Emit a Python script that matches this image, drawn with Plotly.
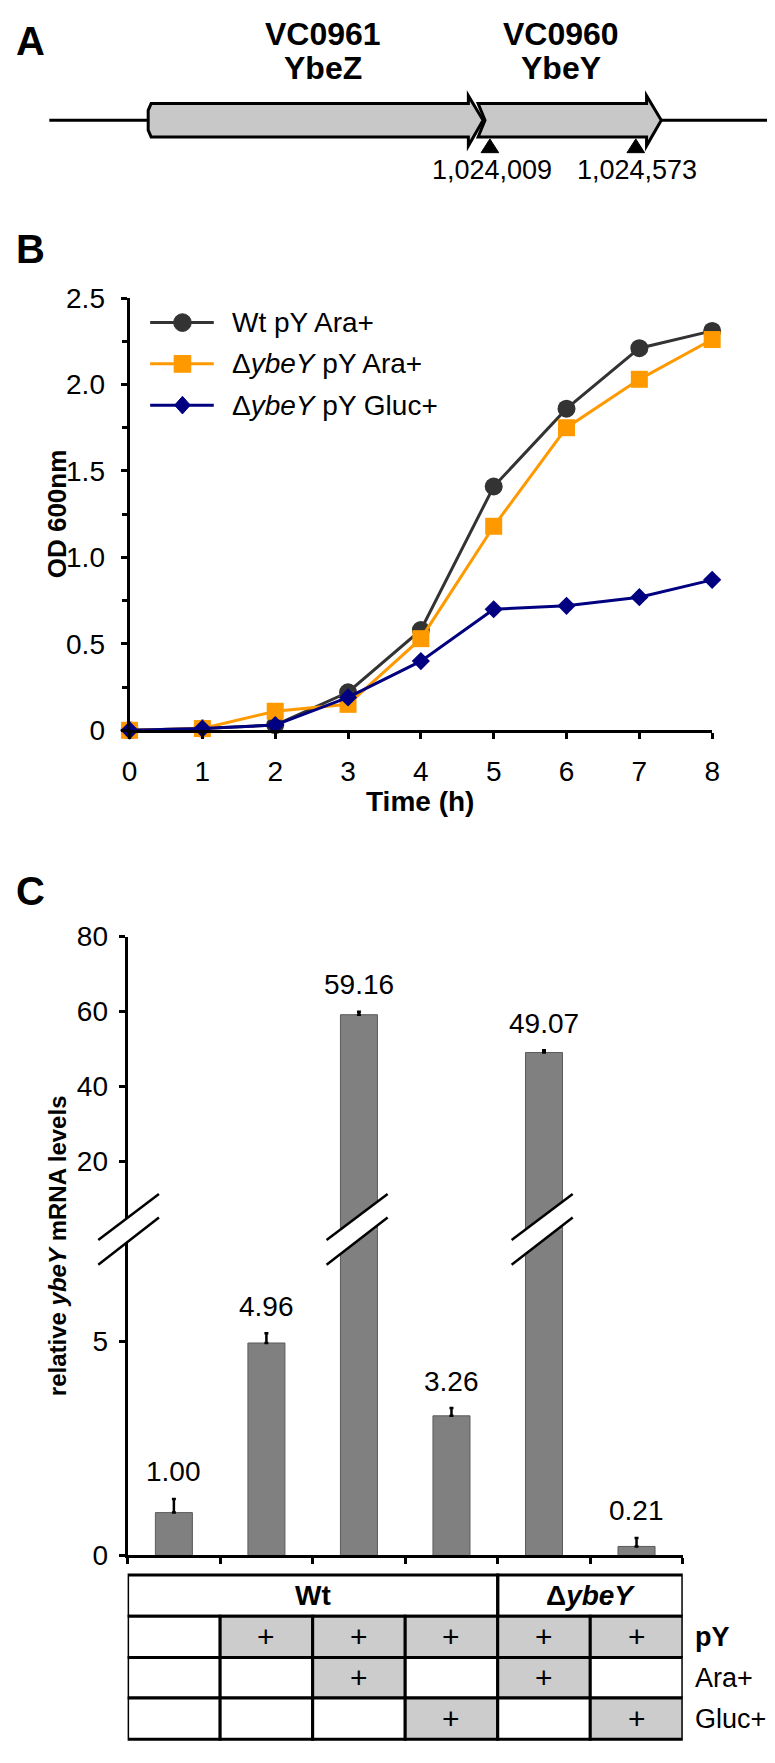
import plotly.graph_objects as go

# the page body keeps its default 8px margin, so the figure is 8px smaller
# than the window and every position below is given in window pixels
OFF = 8
W, H = 775 - OFF, 1763 - OFF
FONT = "Liberation Sans, Arial, sans-serif"

# panel A
gene_names = ["VC0961", "VC0960"]
gene_proteins = ["YbeZ", "YbeY"]
coord_labels = ["1,024,009", "1,024,573"]

# panel B - growth curves
hours = [0, 1, 2, 3, 4, 5, 6, 7, 8]
od_wt_ara = [0.00, 0.01, 0.03, 0.22, 0.58, 1.41, 1.86, 2.21, 2.31]
od_dybey_ara = [0.00, 0.01, 0.11, 0.15, 0.53, 1.18, 1.75, 2.03, 2.26]
od_dybey_gluc = [0.00, 0.01, 0.03, 0.19, 0.40, 0.70, 0.72, 0.77, 0.87]
series_names = ["Wt pY Ara+", "Δ<i>ybeY</i> pY Ara+", "Δ<i>ybeY</i> pY Gluc+"]
series_colors = ["#333333", "#FF9900", "#000080"]
series_symbols = ["circle", "square", "diamond"]
series_sizes = [18, 17, 14]

# panel C - mRNA levels
samples = ["Wt", "Wt pY", "Wt pY Ara+", "Wt pY Gluc+", "dybeY pY Ara+", "dybeY pY Gluc+"]
mrna = [1.00, 4.96, 59.16, 3.26, 49.07, 0.21]
mrna_err = [0.32, 0.23, 0.8, 0.18, 0.6, 0.2]
mrna_labels = ["1.00", "4.96", "59.16", "3.26", "49.07", "0.21"]

strain_groups = [("<b>Wt</b>", 0, 3), ("<b>Δ<i>ybeY</i></b>", 4, 5)]
cond_names = ["<b>pY</b>", "Ara+", "Gluc+"]
cond_py = [0, 1, 1, 1, 1, 1]
cond_ara = [0, 0, 1, 0, 1, 0]
cond_gluc = [0, 0, 0, 1, 0, 1]


def px(x):
    return (x - OFF) / W


def py(y):
    return 1 - (y - OFF) / H


def path(points):
    return "M " + " L ".join(f"{px(x)},{py(y)}" for x, y in points) + " Z"


fig = go.Figure()

# ---- B: growth curves
for ys, name, col, sym, sz in zip([od_wt_ara, od_dybey_ara, od_dybey_gluc], series_names,
                                  series_colors, series_symbols, series_sizes):
    fig.add_trace(go.Scatter(
        x=hours, y=ys, name=name, mode="lines+markers",
        line=dict(color=col, width=3),
        marker=dict(symbol=sym, size=sz, color=col),
        cliponaxis=False, xaxis="x", yaxis="y", showlegend=False,
    ))

# ---- C: bars, lower and upper part of the broken axis
tall = [v > 10 for v in mrna]
fig.add_trace(go.Bar(
    x=samples, y=mrna, width=0.4,
    marker=dict(color="#808080", line=dict(color="#5a5a5a", width=1)),
    error_y=dict(type="data", array=[0 if t else e for t, e in zip(tall, mrna_err)],
                 arrayminus=[0] * len(mrna), symmetric=False,
                 color="black", thickness=2.5, width=2),
    xaxis="x2", yaxis="y2", showlegend=False,
))
fig.add_trace(go.Bar(
    x=samples, y=[v if t else None for t, v in zip(tall, mrna)], width=0.4,
    marker=dict(color="#808080", line=dict(color="#5a5a5a", width=1)),
    error_y=dict(type="data", array=[e if t else 0 for t, e in zip(tall, mrna_err)],
                 arrayminus=[0] * len(mrna), symmetric=False,
                 color="black", thickness=2.5, width=2),
    xaxis="x2", yaxis="y3", showlegend=False,
))

ann = []
shapes = []

for i, (v, e, lab, t) in enumerate(zip(mrna, mrna_err, mrna_labels, tall)):
    ann.append(dict(x=samples[i], y=v + e, xref="x2", yref="y3" if t else "y2",
                    text=lab, yshift=27, font=dict(size=28)))

# ---- A: gene map
shapes.append(dict(type="line", xref="paper", yref="paper",
                   x0=px(42), x1=px(780), y0=py(107), y1=py(107),
                   line=dict(color="black", width=3)))
gene1 = [(146, 90), (470, 90), (470, 82), (485, 107), (470, 133), (470, 124),
         (146, 124), (143, 117), (143, 97)]
gene2 = [(480, 90), (652, 90), (652, 82), (667, 107), (652, 133), (652, 124),
         (480, 124), (487, 107)]
for g in (gene1, gene2):
    shapes.append(dict(type="path", xref="paper", yref="paper", path=path(g),
                       fillcolor="#c8c8c8", line=dict(color="black", width=3)))
for cx in (492, 641):
    shapes.append(dict(type="path", xref="paper", yref="paper",
                       path=path([(cx, 126), (cx + 9, 140), (cx - 9, 140)]),
                       fillcolor="black", line=dict(color="black", width=1)))
for cx, gname, prot in zip((322, 565), gene_names, gene_proteins):
    ann.append(dict(x=px(cx), y=py(19), text=f"<b>{gname}</b>", font=dict(size=32)))
    ann.append(dict(x=px(cx), y=py(54), text=f"<b>{prot}</b>", font=dict(size=32)))
for cx, lab in zip((494, 642), coord_labels):
    ann.append(dict(x=px(cx), y=py(158), text=lab, font=dict(size=27)))

# panel letters and axis titles
for lab, x, y, s in (("A", 23, 26, 40), ("B", 23, 238, 40), ("C", 23, 892, 40)):
    ann.append(dict(x=px(x), y=py(y), text=f"<b>{lab}</b>", font=dict(size=s)))
ann.append(dict(x=px(50), y=py(508), text="<b>OD 600nm</b>", textangle=-90, font=dict(size=26)))
ann.append(dict(x=px(421), y=py(800), text="<b>Time (h)</b>", font=dict(size=28)))
ann.append(dict(x=px(50), y=py(1253), text="<b>relative <i>ybeY</i> mRNA levels</b>",
                textangle=-90, font=dict(size=24)))

# ---- B legend (drawn by hand)
for k, (name, col, sym) in enumerate(zip(series_names, series_colors, series_symbols)):
    ly = [313, 355, 397][k]
    shapes.append(dict(type="line", xref="paper", yref="paper", x0=px(145), x1=px(210),
                       y0=py(ly), y1=py(ly), line=dict(color=col, width=3)))
    if sym == "circle":
        shapes.append(dict(type="circle", xref="paper", yref="paper", x0=px(169), x1=px(187),
                           y0=py(ly - 9), y1=py(ly + 9), fillcolor=col, line=dict(color=col, width=1)))
    elif sym == "square":
        shapes.append(dict(type="rect", xref="paper", yref="paper", x0=px(169.5), x1=px(186.5),
                           y0=py(ly - 8.5), y1=py(ly + 8.5), fillcolor=col, line=dict(color=col, width=1)))
    else:
        shapes.append(dict(type="path", xref="paper", yref="paper",
                           path=path([(178, ly - 9), (186, ly), (178, ly + 9), (170, ly)]),
                           fillcolor=col, line=dict(color=col, width=1)))
    ann.append(dict(x=px(227), y=py(ly), text=name, xanchor="left", font=dict(size=28)))


# ---- C axis break marks
def break_band(xref, cx, x_half):
    pts = [(cx - x_half, 1247), (cx + x_half, 1200), (cx + x_half, 1224), (cx - x_half, 1272)]
    if xref == "paper":
        xs = [px(p[0]) for p in pts]
    else:
        xs = [p[0] for p in pts]
    ys = [py(p[1]) for p in pts]
    d = "M " + " L ".join(f"{a},{b}" for a, b in zip(xs, ys)) + " Z"
    out = [dict(type="path", xref=xref, yref="paper", path=d, fillcolor="white",
                line=dict(width=0), layer="above")]
    for a, b in ((0, 1), (3, 2)):
        out.append(dict(type="line", xref=xref, yref="paper", x0=xs[a], x1=xs[b],
                        y0=ys[a], y1=ys[b], line=dict(color="black", width=2.5)))
    return out


shapes += break_band("paper", 123, 31)
for i, t in enumerate(tall):
    if t:
        shapes += break_band("x2", i - 0.02, 0.33)

# ---- C condition table
rows_y = [1588, 1630, 1672, 1713, 1755]
gray = "#cccccc"
for name, a, b in strain_groups:
    shapes.append(dict(type="rect", xref="x2", yref="paper", x0=a - 0.5, x1=b + 0.5,
                       y0=py(rows_y[0]), y1=py(rows_y[1]), line=dict(color="black", width=3)))
    ann.append(dict(x=(a + b) / 2, y=py((rows_y[0] + rows_y[1]) / 2), xref="x2", yref="paper",
                    text=name, font=dict(size=28)))
for r, (cname, flags) in enumerate(zip(cond_names, [cond_py, cond_ara, cond_gluc])):
    y0, y1 = rows_y[r + 1], rows_y[r + 2]
    for i, f in enumerate(flags):
        shapes.append(dict(type="rect", xref="x2", yref="paper", x0=i - 0.5, x1=i + 0.5,
                           y0=py(y0), y1=py(y1), fillcolor=gray if f else "white",
                           line=dict(color="black", width=3)))
        if f:
            ann.append(dict(x=i, y=py((y0 + y1) / 2), xref="x2", yref="paper",
                            text="+", font=dict(size=30)))
    ann.append(dict(x=px(699), y=py((y0 + y1) / 2), text=cname, xanchor="left",
                    font=dict(size=27)))

for a in ann:
    a.setdefault("xref", "paper")
    a.setdefault("yref", "paper")
    a.setdefault("xanchor", "center")
    a.setdefault("yanchor", "middle")
    a.setdefault("showarrow", False)

axis_common = dict(showline=True, linecolor="black", linewidth=3, ticks="outside",
                   tickcolor="black", tickwidth=2.5, ticklen=6, showgrid=False,
                   zeroline=False, tickfont=dict(size=28, color="black"))

fig.update_layout(
    width=W, height=H, margin=dict(l=0, r=0, t=0, b=0),
    paper_bgcolor="white", plot_bgcolor="white",
    font=dict(family=FONT, color="black"),
    showlegend=False, bargap=0.6,
    xaxis=dict(axis_common, domain=[px(124), px(719)], range=[0, 8], anchor="y",
               tickvals=hours, ticklabelstandoff=8),
    yaxis=dict(axis_common, domain=[py(728), py(288)], range=[0, 2.5], anchor="x",
               tickvals=[0, 0.5, 1.0, 1.5, 2.0, 2.5],
               ticktext=["0", "0.5", "1.0", "1.5", "2.0", "2.5"], ticklabelstandoff=10,
               minor=dict(dtick=0.25, ticks="outside", ticklen=5, tickwidth=2.5, tickcolor="black")),
    xaxis2=dict(axis_common, domain=[px(122), px(689)], range=[-0.5, 5.5], anchor="y2",
                type="category", showticklabels=False, tickson="boundaries"),
    yaxis2=dict(axis_common, domain=[py(1568), py(1236)], range=[0, 332 / 43.6], anchor="x2",
                tickvals=[0, 5], ticklabelstandoff=5),
    yaxis3=dict(axis_common, domain=[py(1236), py(938)], range=[80 - 298 / 3.817, 80],
                anchor="x2", tickvals=[20, 40, 60, 80], ticklabelstandoff=5),
    shapes=shapes, annotations=ann,
)

fig.write_html("out.html")
